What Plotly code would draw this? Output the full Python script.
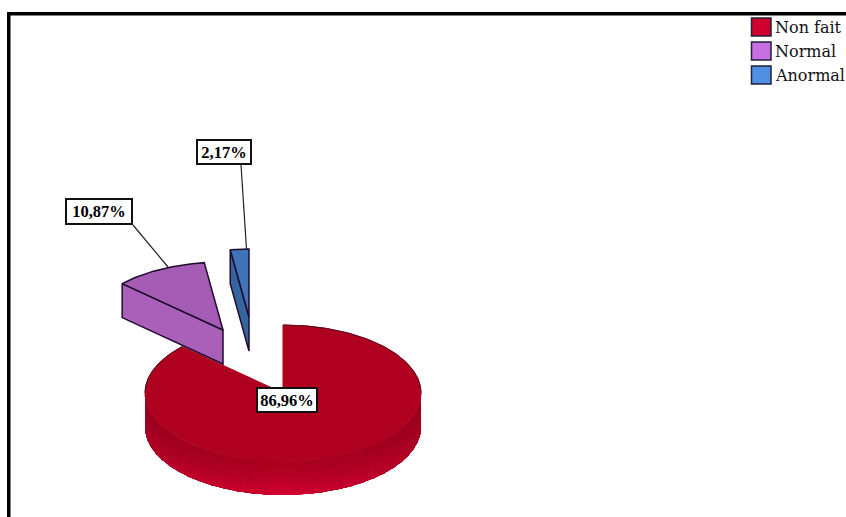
import numpy as np
import plotly.graph_objects as go

# Data
categories = ["Non fait", "Normal", "Anormal"]
percentages = [86.96, 10.87, 2.17]
face_colors = ["#b0001f", "#a55cb4", "#3f74b8"]
cut_colors = ["#b0001f", "#aa60b8", "#34659f"]
legend_colors = ["#d0002f", "#c76fe0", "#4f90e4"]

# Pie projection, in page pixels
W, H = 846, 517
CX, CY, RX, RY, DEPTH = 283, 393, 138, 68, 34
EXPLODE = [(0, 0), (-60, -63), (-34, -76)]
EDGE = "#200a30"


def point(deg, off=(0, 0), drop=0):
    a = np.radians(deg)
    return CX + off[0] + RX * np.sin(a), CY + off[1] - RY * np.cos(a) + drop


def arc(a0, a1, off=(0, 0), drop=0):
    ts = np.linspace(a0, a1, max(int(abs(a1 - a0)) + 2, 3))
    xs, ys = point(ts, off, drop)
    return list(xs), list(ys)


def poly(xs, ys, fill, line=None, width=1):
    return go.Scatter(
        x=xs, y=ys, mode="lines", fill="toself", fillcolor=fill,
        line=dict(color=line or fill, width=width), hoverinfo="skip", showlegend=False,
    )


def blend(c0, c1, f):
    return tuple(a + (b - a) * f for a, b in zip(c0, c1))


def css(c):
    return f"rgb({round(c[0])},{round(c[1])},{round(c[2])})"


fig = go.Figure()

# Sweep limits of each slice, clockwise from twelve o'clock
edges = np.cumsum([0] + [p * 3.6 for p in percentages])
a0, a1 = edges[0], edges[1]

# Rim of the large slice: each column and band overlaps the one painted after it,
# so no hairline gaps show between neighbouring bands
LAYERS = 8
STEP = 6
for t in np.arange(90, 270, STEP):
    front = 1 - abs((t + STEP / 2 - 180) / 90)
    upper = blend((150, 0, 30), (172, 0, 32), front)
    lower = blend((168, 0, 36), (208, 0, 48), front)
    t_end = min(t + STEP + 2, 270)
    for k in range(LAYERS):
        d0 = DEPTH * k / LAYERS
        xt, yt = arc(t, t_end, drop=d0)
        xb, yb = arc(t_end, t, drop=DEPTH)
        col = css(blend(upper, lower, (k / (LAYERS - 1)) ** 1.4))
        fig.add_trace(poly(xt + xb, yt + yb, col, width=0))

# Top face of the large slice
xa, ya = arc(a0, a1)
fig.add_trace(poly(xa + [CX, xa[0]], ya + [CY, ya[0]], face_colors[0]))
for span in ((0, 90), (270, a1)):
    xo, yo = arc(*span)
    fig.add_trace(go.Scatter(x=xo, y=yo, mode="lines", line=dict(color="#50101a", width=1),
                             hoverinfo="skip", showlegend=False))

# The two pulled-out slices: radial cut wall, then top face
for i in (1, 2):
    off = EXPLODE[i]
    start, end = edges[i], edges[i + 1]
    ox, oy = point(start, off)
    ax, ay = CX + off[0], CY + off[1]
    fig.add_trace(poly([ox, ax, ax, ox, ox], [oy, ay, ay + DEPTH, oy + DEPTH, oy],
                       cut_colors[i], EDGE, 1.5))
    xa, ya = arc(start, end, off)
    fig.add_trace(poly(xa + [ax, xa[0]], ya + [ay, ya[0]], face_colors[i], EDGE, 1.5))

# Leader lines
for xs, ys in (([133, 168], [225, 267]), ([241, 246.5], [165, 249])):
    fig.add_trace(go.Scatter(x=xs, y=ys, mode="lines", line=dict(color="#222222", width=1.2),
                             hoverinfo="skip", showlegend=False))

# Value labels
LABEL_FONT = dict(family="Liberation Serif", size=16.5, color="#000000")
label_pos = [(287, 400), (99, 211), (223.5, 152)]
label_size = [(62, 26), (68, 27), (56, 26)]
for p, (lx, ly), (lw, lh) in zip(percentages, label_pos, label_size):
    fig.add_annotation(
        x=lx, y=ly, xref="x", yref="y", showarrow=False,
        text="<b>" + f"{p:.2f}".replace(".", ",") + "%</b>",
        font=LABEL_FONT, bgcolor="#ffffff", bordercolor="#111111", borderwidth=2,
        width=lw - 6, height=lh - 6, borderpad=1, align="center", valign="middle",
    )

# Legend
shapes = []
for i, (name, col) in enumerate(zip(categories, legend_colors)):
    y0 = 18 + 24 * i
    shapes.append(dict(type="rect", x0=751.5, x1=771, y0=y0, y1=y0 + 18, xref="x", yref="y",
                       fillcolor=col, line=dict(color="#20203a", width=1.5)))
    fig.add_annotation(
        x=773, y=y0 + 9.5, xref="x", yref="y", showarrow=False, xanchor="left", yanchor="middle",
        text=name, font=dict(family="DejaVu Serif", size=16, color="#111111"),
    )

# Heavy top and left frame
shapes.append(dict(type="rect", x0=7, x1=W, y0=12, y1=15.5, xref="x", yref="y",
                   fillcolor="#000000", line=dict(width=0)))
shapes.append(dict(type="rect", x0=7, x1=10.5, y0=12, y1=H, xref="x", yref="y",
                   fillcolor="#000000", line=dict(width=0)))

fig.update_layout(
    width=W, height=H, margin=dict(l=0, r=0, t=0, b=0),
    paper_bgcolor="#ffffff", plot_bgcolor="#ffffff", showlegend=False, shapes=shapes,
    xaxis=dict(range=[0, W], visible=False, fixedrange=True),
    yaxis=dict(range=[H, 0], visible=False, fixedrange=True),
)
fig.write_html("out.html", config=dict(displayModeBar=False))
